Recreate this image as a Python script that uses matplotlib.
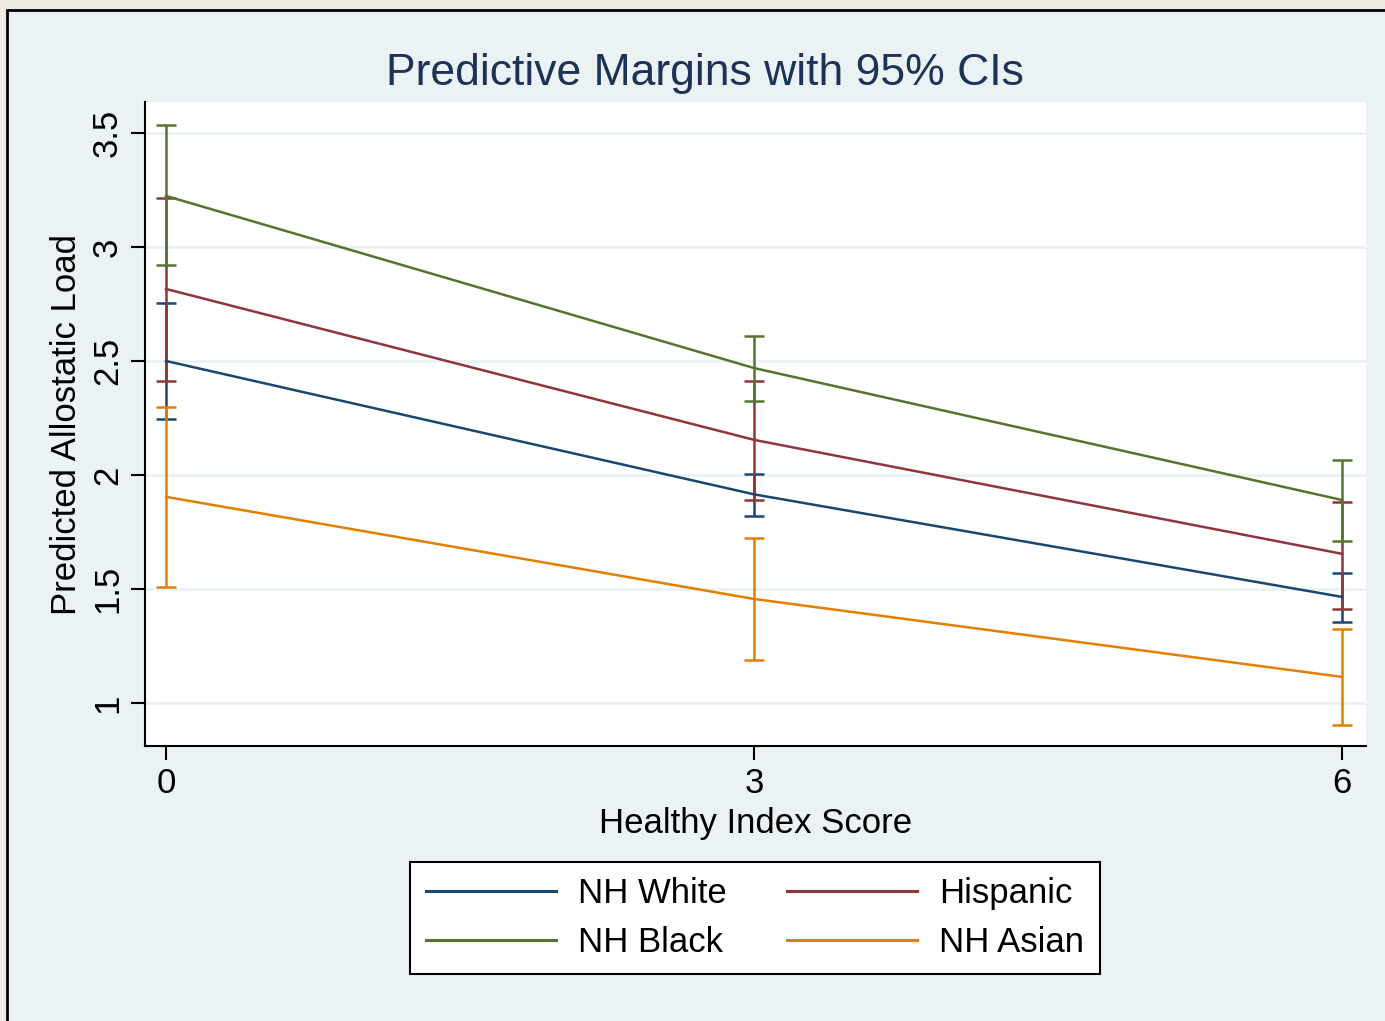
import matplotlib
matplotlib.use('Agg')
import matplotlib.pyplot as plt
from matplotlib.patches import Rectangle

plt.rcParams['font.family'] = ['Liberation Sans', 'DejaVu Sans']

x_vals = [0, 3, 6]
groups = ['NH White', 'Hispanic', 'NH Black', 'NH Asian']
colors = ['#1A476F', '#90353B', '#55752F', '#E37E00']

white_m = [2.50, 1.915, 1.465]
white_lo = [2.246, 1.82, 1.355]
white_hi = [2.754, 2.004, 1.57]

hisp_m = [2.816, 2.154, 1.654]
hisp_lo = [2.412, 1.89, 1.41]
hisp_hi = [3.215, 2.412, 1.88]

black_m = [3.224, 2.469, 1.89]
black_lo = [2.921, 2.325, 1.71]
black_hi = [3.535, 2.61, 2.066]

asian_m = [1.904, 1.456, 1.114]
asian_lo = [1.509, 1.189, 0.904]
asian_hi = [2.298, 1.724, 1.325]

means = [white_m, hisp_m, black_m, asian_m]
lows = [white_lo, hisp_lo, black_lo, asian_lo]
highs = [white_hi, hisp_hi, black_hi, asian_hi]

y_ticks = [1, 1.5, 2, 2.5, 3, 3.5]
y_ticklabels = ['1', '1.5', '2', '2.5', '3', '3.5']

bg = '#EAF2F3'
fig = plt.figure(figsize=(13.85, 10.21), dpi=100, facecolor='#EEEAE4')
fig.patches.append(Rectangle((7 / 1385, -0.01), 1.02, 1 - 10 / 1021 + 0.01,
                             transform=fig.transFigure, facecolor=bg,
                             edgecolor='black', linewidth=2, zorder=-10))

ax = fig.add_axes([145 / 1385, 1 - 746 / 1021, 1221 / 1385, 644 / 1021])
ax.set_facecolor('white')

for m, lo, hi, c in zip(means, lows, highs, colors):
    yerr = [[a - b for a, b in zip(m, lo)], [b - a for a, b in zip(m, hi)]]
    ax.errorbar(x_vals, m, yerr=yerr, fmt='none', ecolor=c, elinewidth=1.8,
                capsize=7, capthick=1.8, zorder=2)
for m, c, g in zip(means, colors, groups):
    ax.plot(x_vals, m, color=c, linewidth=1.8, label=g, zorder=3)

ax.set_xlim(-0.107, 6.122)
ax.set_ylim(0.811, 3.636)
ax.set_xticks(x_vals)
ax.set_yticks(y_ticks)
ax.set_yticklabels(y_ticklabels, rotation=90, va='center')
ax.grid(axis='y', color=bg, linewidth=2)
ax.set_axisbelow(True)
for s in ['top', 'right']:
    ax.spines[s].set_visible(False)
for s in ['left', 'bottom']:
    ax.spines[s].set_linewidth(1.5)
ax.tick_params(axis='both', labelsize=25, length=10, width=1.5, pad=5)

ax.set_xlabel('Healthy Index Score', fontsize=25, labelpad=5)
ax.set_ylabel('Predicted Allostatic Load', fontsize=25, labelpad=6)
fig.text(705 / 1385, 1 - 74 / 1021, 'Predictive Margins with 95% CIs',
         ha='center', va='center', fontsize=32, color='#1E3256')

handles, labels = ax.get_legend_handles_labels()
order = [0, 2, 1, 3]
leg = fig.legend([handles[i] for i in order], [labels[i] for i in order],
                 ncol=2, loc='center',
                 bbox_to_anchor=(755 / 1385, 1 - 918 / 1021),
                 fontsize=25, frameon=True, fancybox=False, framealpha=1,
                 facecolor='white', edgecolor='black', handlelength=3.75,
                 columnspacing=1.75, handletextpad=0.63, labelspacing=0.45,
                 borderpad=0.45, borderaxespad=0)
leg.get_frame().set_linewidth(1.5)
for line in leg.get_lines():
    line.set_linewidth(2.2)

fig.savefig('out.png', dpi=100, facecolor=fig.get_facecolor())
